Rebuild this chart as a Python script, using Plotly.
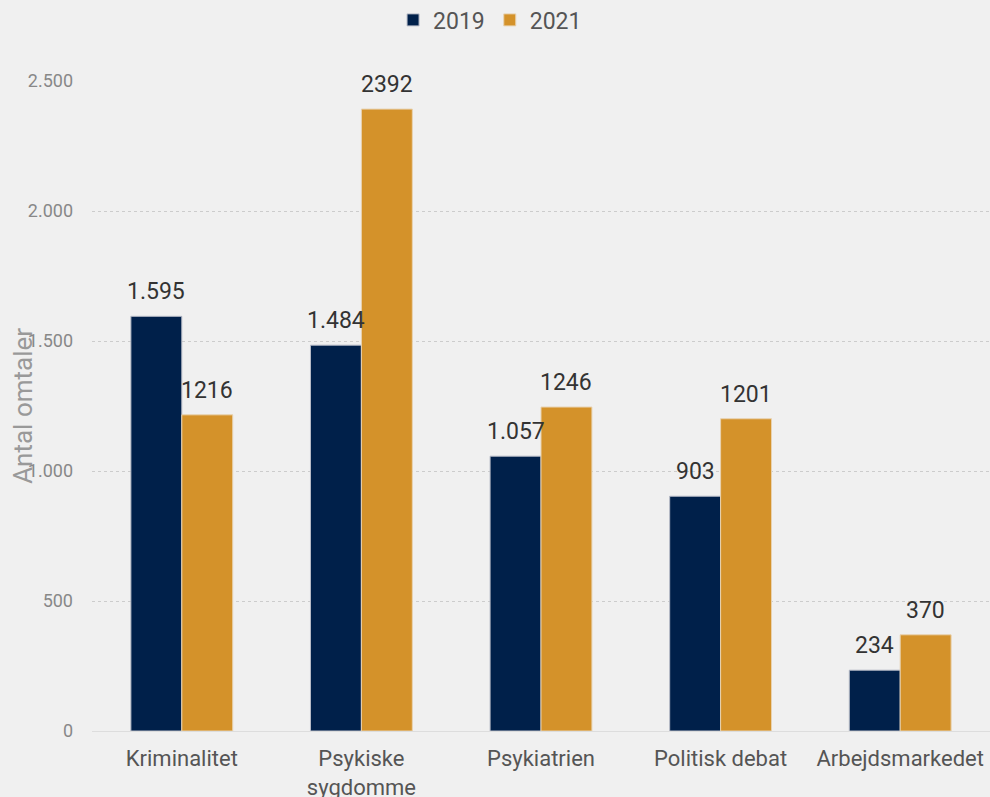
import plotly.graph_objects as go

categories = ["Kriminalitet", "Psykiske<br>sygdomme", "Psykiatrien", "Politisk debat", "Arbejdsmarkedet"]
values_2019 = [1595, 1484, 1057, 903, 234]
values_2021 = [1216, 2392, 1246, 1201, 370]
tick_vals = [0, 500, 1000, 1500, 2000, 2500]

navy = "#00204a"
gold = "#d4922a"

fig = go.Figure()
fig.add_trace(go.Bar(name="2019", x=categories, y=values_2019, marker=dict(color=navy, line=dict(color="#b8bcc8", width=1))))
fig.add_trace(go.Bar(name="2021", x=categories, y=values_2021, marker=dict(color=gold, line=dict(color="#e8d2b0", width=1))))

plot_w = 990 - 92
bar_w = plot_w / len(categories) * (1 - 0.433) / 2
for c, v in zip(categories, values_2019):
    fig.add_annotation(x=c, y=v, text=f"{v:,}".replace(",", "."), showarrow=False,
                       xshift=-bar_w / 2, yshift=9, yanchor="bottom",
                       font=dict(size=23, color="#333333"))
for c, v in zip(categories, values_2021):
    fig.add_annotation(x=c, y=v, text=str(v), showarrow=False,
                       xshift=bar_w / 2, yshift=9, yanchor="bottom",
                       font=dict(size=23, color="#333333"))

fig.add_annotation(text="Antal omtaler", xref="paper", yref="paper", x=-0.077, y=0.5,
                   xanchor="center", yanchor="middle", textangle=-90, showarrow=False,
                   font=dict(size=26, color="#999999"))

fig.update_layout(
    width=990, height=797,
    margin=dict(l=92, r=0, t=81, b=66, autoexpand=False),
    paper_bgcolor="#f0f0f0", plot_bgcolor="#f0f0f0",
    font=dict(family="Roboto", color="#555555"),
    separators=",.",
    barmode="group", bargap=0.433, bargroupgap=0,
    showlegend=True,
    legend=dict(orientation="h", xref="container", x=0.495, xanchor="center",
                yref="container", y=0.975, yanchor="middle",
                font=dict(size=23, color="#555555"), itemwidth=30, tracegroupgap=0,
                traceorder="normal"),
    xaxis=dict(tickfont=dict(size=22, color="#555555"), showgrid=False,
               showline=True, linecolor="#dddddd", linewidth=1, ticks="",
               ticklabelstandoff=8, automargin=False),
    yaxis=dict(range=[0, 2500], tickvals=tick_vals, tickformat=",d",
               tickfont=dict(size=18, color="#888888"), automargin=False,
               showgrid=True, gridcolor="#cccccc", griddash="dot", gridwidth=1,
               zeroline=False, showline=False, ticklabelstandoff=18),
)

fig.write_html("out.html", config={"displayModeBar": False},
               post_script="document.body.style.margin='0';document.body.style.overflow='hidden';")
